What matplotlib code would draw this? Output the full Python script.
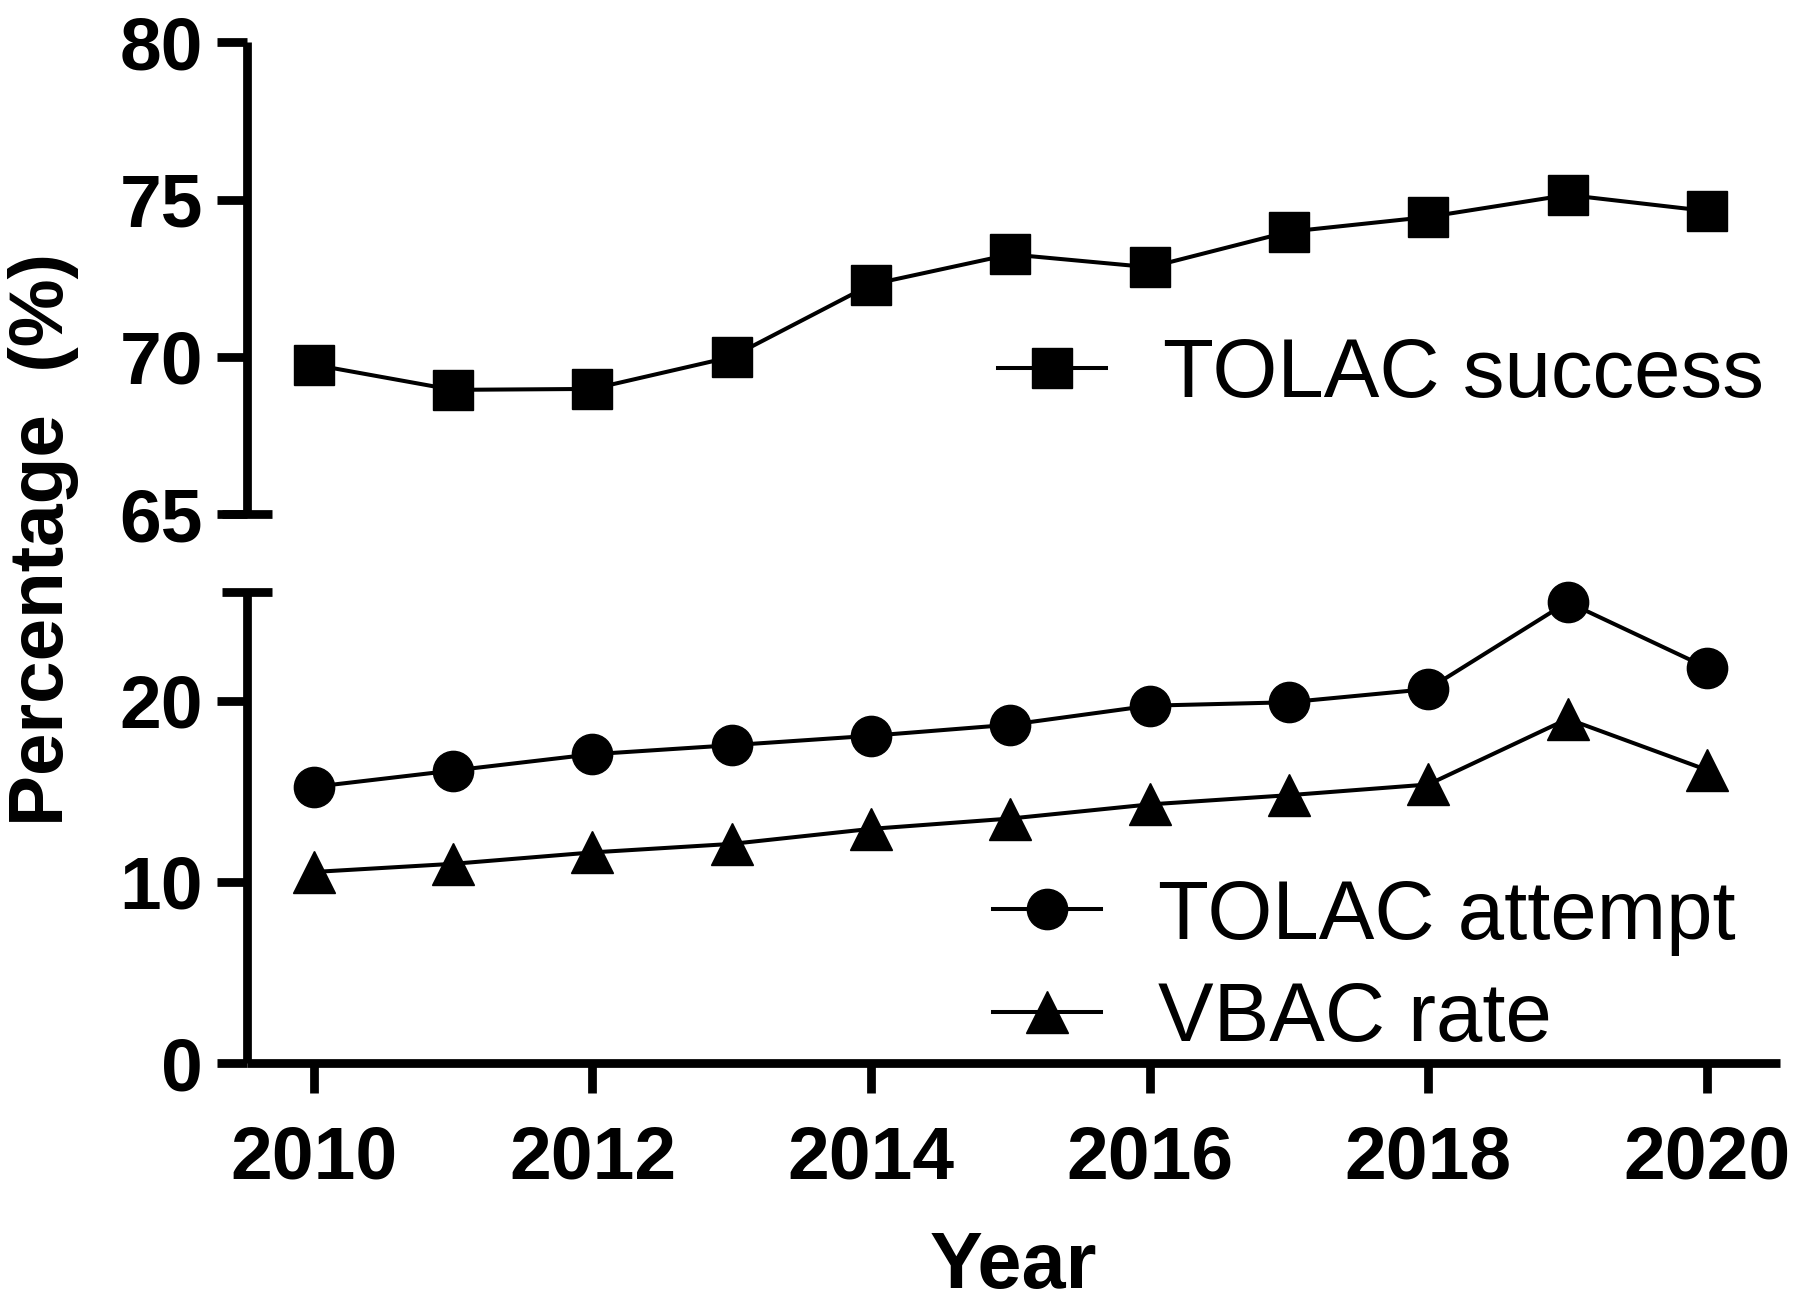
import matplotlib
matplotlib.use("Agg")
import matplotlib.pyplot as plt

# values
years = [2010, 2011, 2012, 2013, 2014, 2015, 2016, 2017, 2018, 2019, 2020]
tolac_success = [69.75, 68.95, 68.98, 70.0, 72.3, 73.26, 72.85, 73.98, 74.45, 75.15, 74.64]
tolac_attempt = [15.25, 16.15, 17.05, 17.55, 18.07, 18.68, 19.73, 19.92, 20.65, 25.45, 21.83]
vbac_rate = [10.55, 11.0, 11.63, 12.1, 12.93, 13.5, 14.28, 14.79, 15.38, 19.0, 16.18]

xticks = [2010, 2012, 2014, 2016, 2018, 2020]
top_yticks = [65, 70, 75, 80]
bot_yticks = [0, 10, 20]

plt.rcParams["font.family"] = ["Liberation Sans", "DejaVu Sans"]

AX_LW = 6.3
LINE_LW = 2.9
MS = 29
TICK_LEN = 21.5


def style_axis(ax):
    for side in ["top", "right"]:
        ax.spines[side].set_visible(False)
    for side in ["left", "bottom"]:
        ax.spines[side].set_linewidth(AX_LW)
        ax.spines[side].set_capstyle("butt")
    ax.tick_params(axis="both", width=AX_LW, length=TICK_LEN, direction="out")
    ax.tick_params(axis="y", labelsize=54, pad=10)
    ax.tick_params(axis="x", labelsize=54, pad=23)
    for lab in ax.get_xticklabels() + ax.get_yticklabels():
        lab.set_fontweight("bold")
    ax.set_xlim(2009.52, 2020.525)
    ax.set_facecolor("none")


fig = plt.figure(figsize=(18, 13.1), dpi=100)
ax_top = fig.add_axes([0.1372, 0.6076, 0.8517, 0.36])
ax_bot = fig.add_axes([0.1372, 0.1885, 0.8517, 0.3595])

# upper panel: TOLAC success
ax_top.plot(years, tolac_success, color="black", lw=LINE_LW, marker="s",
            ms=MS, label="TOLAC success", clip_on=False)
ax_top.set_ylim(65, 80)
ax_top.set_yticks(top_yticks)
ax_top.set_xticks(xticks)
style_axis(ax_top)
ax_top.spines["bottom"].set_visible(False)
ax_top.tick_params(axis="x", bottom=False, labelbottom=False)

# lower panel: attempt and VBAC
ax_bot.plot(years, tolac_attempt, color="black", lw=LINE_LW, marker="o",
            ms=MS, label="TOLAC attempt", clip_on=False)
ax_bot.plot(years, vbac_rate, color="black", lw=LINE_LW, marker="^",
            ms=MS + 1, label="VBAC rate", clip_on=False)
ax_bot.set_ylim(0, 26)
ax_bot.set_yticks(bot_yticks)
ax_bot.set_xticks(xticks)
style_axis(ax_bot)

# break marks on the y axis
d = 25 / (0.8517 * 1800)
ax_top.plot([-d, d], [0, 0], transform=ax_top.transAxes, color="black",
            lw=AX_LW, solid_capstyle="butt", clip_on=False)
ax_bot.plot([-d, d], [1, 1], transform=ax_bot.transAxes, color="black",
            lw=AX_LW, solid_capstyle="butt", clip_on=False)

leg_kw = dict(frameon=False, fontsize=60, handlelength=1.3, handletextpad=0.68,
              borderpad=0, borderaxespad=0, loc="center left",
              bbox_transform=fig.transFigure)
ax_top.legend(bbox_to_anchor=(998 / 1800, 1 - 375 / 1310), **leg_kw)
ax_bot.legend(bbox_to_anchor=(993 / 1800, 1 - 968 / 1310), labelspacing=0.3, **leg_kw)

ax_bot.set_xlabel("Year", fontsize=57, fontweight="bold", labelpad=26)
fig.text(44 / 1800, 1 - 540 / 1310, "Percentage  (%)", rotation=90,
         ha="center", va="center", fontsize=55, fontweight="bold")

fig.savefig("out.png", dpi=100, facecolor="white")
